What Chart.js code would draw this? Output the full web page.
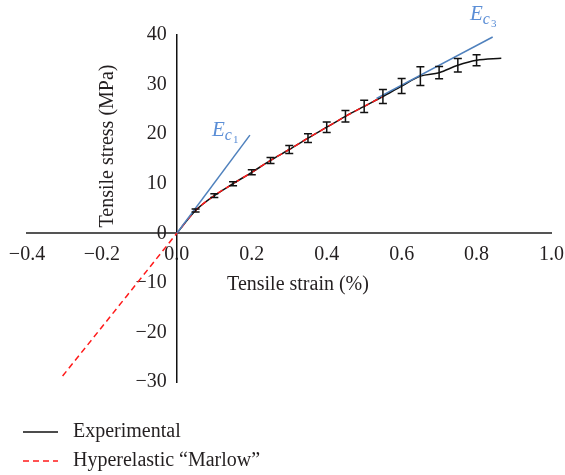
<!DOCTYPE html>
<html>
<head>
<meta charset="utf-8">
<script src="https://cdn.jsdelivr.net/npm/chart.js@4.4.7/dist/chart.umd.min.js"></script>
<style>
  html, body { margin: 0; padding: 0; background: #fff; }
  #wrap { width: 565px; height: 475px; }
</style>
</head>
<body>
<div id="wrap"><canvas id="chart"></canvas></div>
<script>
// experimental curve (mean) and error bar half-heights
const strain = [0, 0.05, 0.1, 0.15, 0.2, 0.25, 0.3, 0.35, 0.4, 0.45, 0.5, 0.55, 0.6, 0.65, 0.7, 0.75, 0.8, 0.866];
const stress = [0, 4.6, 7.6, 10.0, 12.3, 14.7, 16.9, 19.2, 21.4, 23.6, 25.6, 27.6, 29.7, 31.7, 32.4, 33.9, 34.9, 35.3];
const stressErr = [0, 0.3, 0.4, 0.4, 0.5, 0.6, 0.8, 0.9, 1.05, 1.15, 1.25, 1.4, 1.5, 1.9, 1.25, 1.35, 1.1, 0];

// hyperelastic "Marlow" fit
const marlowStrain = [-0.305, -0.2, -0.1, 0, 0.05, 0.1, 0.15, 0.2, 0.25, 0.3, 0.35, 0.4, 0.45, 0.5, 0.55];
const marlowStress = [-28.8, -18.9, -9.45, 0, 4.6, 7.6, 10.0, 12.3, 14.7, 16.9, 19.2, 21.4, 23.6, 25.6, 27.6];

// modulus lines
const ec1Strain = [0, 0.195];
const ec1Stress = [0, 19.8];
const ec3Strain = [0.533, 0.843];
const ec3Stress = [27.2, 39.6];

const xTicks = { min: -0.4, max: 1.0, step: 0.2 };
const yTicks = { min: -30, max: 40, step: 10 };

const SERIF = "'Liberation Serif', 'Times New Roman', serif";
const FS = 20;
const BLUE = '#4f81bd';
const toPts = (xs, ys) => xs.map((v, i) => ({ x: v, y: ys[i] }));
const minus = s => s.replace('-', '\u2212');

const errorBars = {
  id: 'errorBars',
  afterDatasetsDraw(chart) {
    const { ctx, scales: { x, y } } = chart;
    ctx.save();
    ctx.strokeStyle = '#111';
    ctx.lineWidth = 1.5;
    strain.forEach((s, i) => {
      const e = stressErr[i];
      if (!e) return;
      const px = x.getPixelForValue(s);
      const top = y.getPixelForValue(stress[i] + e);
      const bot = y.getPixelForValue(stress[i] - e);
      ctx.beginPath();
      ctx.moveTo(px, top); ctx.lineTo(px, bot);
      ctx.moveTo(px - 4, top); ctx.lineTo(px + 4, top);
      ctx.moveTo(px - 4, bot); ctx.lineTo(px + 4, bot);
      ctx.stroke();
    });
    ctx.restore();
  }
};

// axis titles, E labels and the stacked legend
const extras = {
  id: 'extras',
  afterDraw(chart) {
    const ctx = chart.ctx;
    ctx.save();
    ctx.fillStyle = '#231f20';
    ctx.font = `${FS}px ${SERIF}`;
    ctx.textAlign = 'center';
    ctx.textBaseline = 'middle';
    ctx.fillText('Tensile strain (%)', 298, 285);
    ctx.save();
    ctx.translate(108, 146);
    ctx.rotate(-Math.PI / 2);
    ctx.fillText('Tensile stress (MPa)', 0, 0);
    ctx.restore();

    const modLabel = (x, y, sub) => {
      ctx.fillStyle = '#5b8ed6';
      ctx.textAlign = 'left';
      ctx.textBaseline = 'alphabetic';
      ctx.font = `italic 21px ${SERIF}`;
      ctx.fillText('E', x, y);
      const w = ctx.measureText('E').width;
      ctx.font = `italic 16px ${SERIF}`;
      ctx.fillText('c', x + w, y + 4);
      const w2 = ctx.measureText('c').width;
      ctx.font = `11px ${SERIF}`;
      ctx.fillText(sub, x + w + w2 + 1, y + 7);
    };
    modLabel(212, 136, '1');
    modLabel(470, 20, '3');

    const items = chart.data.datasets.filter(d => d.inLegend)
      .sort((a, b) => a.legendRank - b.legendRank);
    items.forEach((d, i) => {
      const yy = 432 + i * 29;
      ctx.strokeStyle = d.borderColor;
      ctx.lineWidth = 1.5;
      ctx.setLineDash(d.borderDash || []);
      ctx.beginPath();
      ctx.moveTo(23, yy); ctx.lineTo(58, yy);
      ctx.stroke();
      ctx.setLineDash([]);
      ctx.fillStyle = '#231f20';
      ctx.font = `${FS}px ${SERIF}`;
      ctx.textAlign = 'left';
      ctx.textBaseline = 'middle';
      ctx.fillText(d.label, 73, yy);
    });
    ctx.restore();
  }
};

new Chart(document.getElementById('chart'), {
  type: 'scatter',
  data: {
    datasets: [
      {
        label: 'Ec1', data: toPts(ec1Strain, ec1Stress), showLine: true,
        borderColor: BLUE, borderWidth: 1.5, pointRadius: 0, order: 0
      },
      {
        label: 'Ec3', data: toPts(ec3Strain, ec3Stress), showLine: true,
        borderColor: BLUE, borderWidth: 1.5, pointRadius: 0, order: 1
      },
      {
        label: 'Hyperelastic \u201cMarlow\u201d', inLegend: true, legendRank: 2,
        data: toPts(marlowStrain, marlowStress), showLine: true,
        borderColor: '#ff1a1a', borderWidth: 1.5, borderDash: [6, 4],
        cubicInterpolationMode: 'monotone', pointRadius: 0, order: 2
      },
      {
        label: 'Experimental', inLegend: true, legendRank: 1,
        data: toPts(strain, stress), showLine: true,
        borderColor: '#111', borderWidth: 1.5,
        cubicInterpolationMode: 'monotone', pointRadius: 0, order: 3
      }
    ]
  },
  options: {
    responsive: true,
    maintainAspectRatio: false,
    animation: false,
    layout: { padding: { left: 27, right: 13, top: 35, bottom: 93 } },
    plugins: { legend: { display: false }, tooltip: { enabled: false } },
    scales: {
      x: {
        type: 'linear',
        position: { y: 0 },
        min: xTicks.min, max: xTicks.max,
        grid: { display: false },
        border: { color: '#555', width: 2 },
        ticks: {
          stepSize: xTicks.step, autoSkip: false, maxRotation: 0, padding: 1,
          color: '#231f20', font: { family: SERIF, size: FS },
          callback: v => minus((Math.abs(v) < 1e-9 ? 0 : v).toFixed(1))
        }
      },
      y: {
        type: 'linear',
        position: { x: 0 },
        min: yTicks.min, max: yTicks.max,
        grid: { display: false },
        border: { color: '#111', width: 1.5 },
        ticks: {
          stepSize: yTicks.step,
          color: '#231f20', font: { family: SERIF, size: FS },
          // trailing spaces keep right-aligned labels off the centred axis
          callback: v => minus(String(Math.round(v))) + '  '
        }
      }
    }
  },
  plugins: [errorBars, extras]
});
</script>
</body>
</html>
